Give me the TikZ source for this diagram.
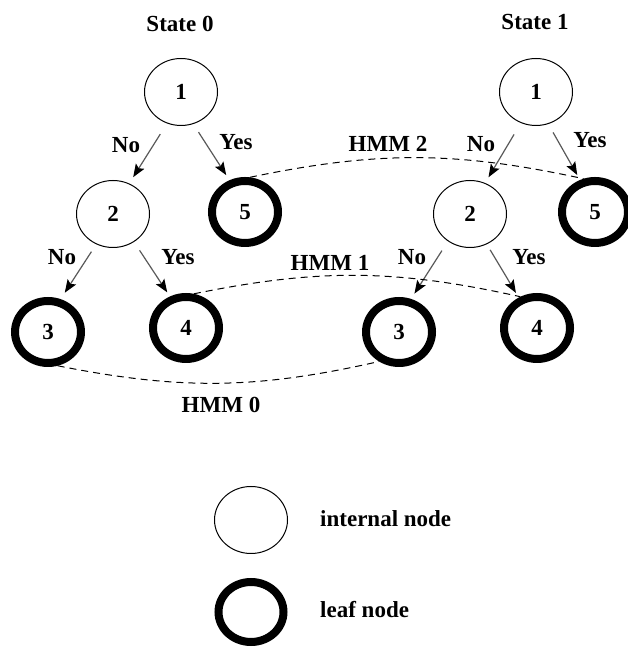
\documentclass[tikz,border=0pt]{standalone}
\usepackage{fontspec}
\setmainfont{Liberation Serif}
\usetikzlibrary{shapes.geometric,arrows.meta}
\begin{document}
\begin{tikzpicture}[x=1pt,y=1pt,
 every node/.style={font=\fontsize{23}{27}\selectfont\bfseries},
 inode/.style={ellipse,draw=black,line width=1pt,minimum width=73pt,minimum height=67pt,inner sep=0pt},
 leaf/.style={ellipse,draw=black,line width=8pt,minimum width=66pt,minimum height=62pt,inner sep=0pt},
 lbl/.style={anchor=base,inner sep=0pt},
 arr/.style={draw=black!65,line width=1.2pt,-{Stealth[length=13pt,width=10pt,inset=2.5pt,black]}},
 hmm/.style={dash pattern=on 7pt off 5pt,line width=1pt}]
\useasboundingbox (0,0) rectangle (627,647);
% state labels
\node[lbl] (s0) at (180,615) {State 0};
\node[lbl] (s1) at (535,617) {State 1};
% tree state 0
\node[inode] (L1) at (181,555) {1};
\node[inode] (L2) at (113,433) {2};
\node[leaf]  (L5) at (245,435) {5};
\node[leaf]  (L3) at (48,315) {3};
\node[leaf]  (L4) at (186,319) {4};
% tree state 1
\node[inode] (R1) at (536,555) {1};
\node[inode] (R2) at (470,433) {2};
\node[leaf]  (R5) at (595,435) {5};
\node[leaf]  (R3) at (399,315) {3};
\node[leaf]  (R4) at (537,319) {4};
% arrows
\draw[arr,shorten <=12.6pt,shorten >=7.4pt] (L1.246) -- (L2.62);
\draw[arr,shorten <=9.6pt,shorten >=6.1pt] (L1.291) -- (L5.116);
\draw[arr,shorten <=13.3pt,shorten >=6.6pt] (R1.244) -- (R2.64);
\draw[arr,shorten <=9.6pt,shorten >=5.7pt] (R1.291) -- (R5.115);
\draw[arr,shorten <=8.8pt,shorten >=7.6pt] (L2.241) -- (L3.69);
\draw[arr,shorten <=10pt,shorten >=4.9pt] (L2.307) -- (L4.117);
\draw[arr,shorten <=11.1pt,shorten >=6.3pt] (R2.231) -- (R3.70);
\draw[arr,shorten <=6.5pt,shorten >=5.4pt] (R2.299) -- (R4.121);
% branch labels
\node[lbl] (n1) at (126,494) {No};
\node[lbl] (y1) at (236,497) {Yes};
\node[lbl] (n2) at (481,495) {No};
\node[lbl] (y2) at (590,499) {Yes};
\node[lbl] (n3) at (62,382) {No};
\node[lbl] (y3) at (178,382) {Yes};
\node[lbl] (n4) at (412,382) {No};
\node[lbl] (y4) at (529,382) {Yes};
% HMM links
\draw[hmm] (L5.82) to[bend left=12] (R5.109);
\draw[hmm] (L4.77) to[bend left=12] (R4.118);
\draw[hmm] (L3.286) to[bend right=12] (R3.236);
\node[lbl] (h2) at (388,495) {HMM 2};
\node[lbl] (h1) at (330,376) {HMM 1};
\node[lbl] (h0) at (221,234) {HMM 0};
% legend
\node[inode] (li) at (251,127) {};
\node[leaf,minimum width=65pt,minimum height=60pt] (ll) at (251,35) {};
\node[anchor=base west,inner sep=0pt] (lit) at (320,120) {internal node};
\node[anchor=base west,inner sep=0pt] (llt) at (320,29) {leaf node};
\end{tikzpicture}
\end{document}
